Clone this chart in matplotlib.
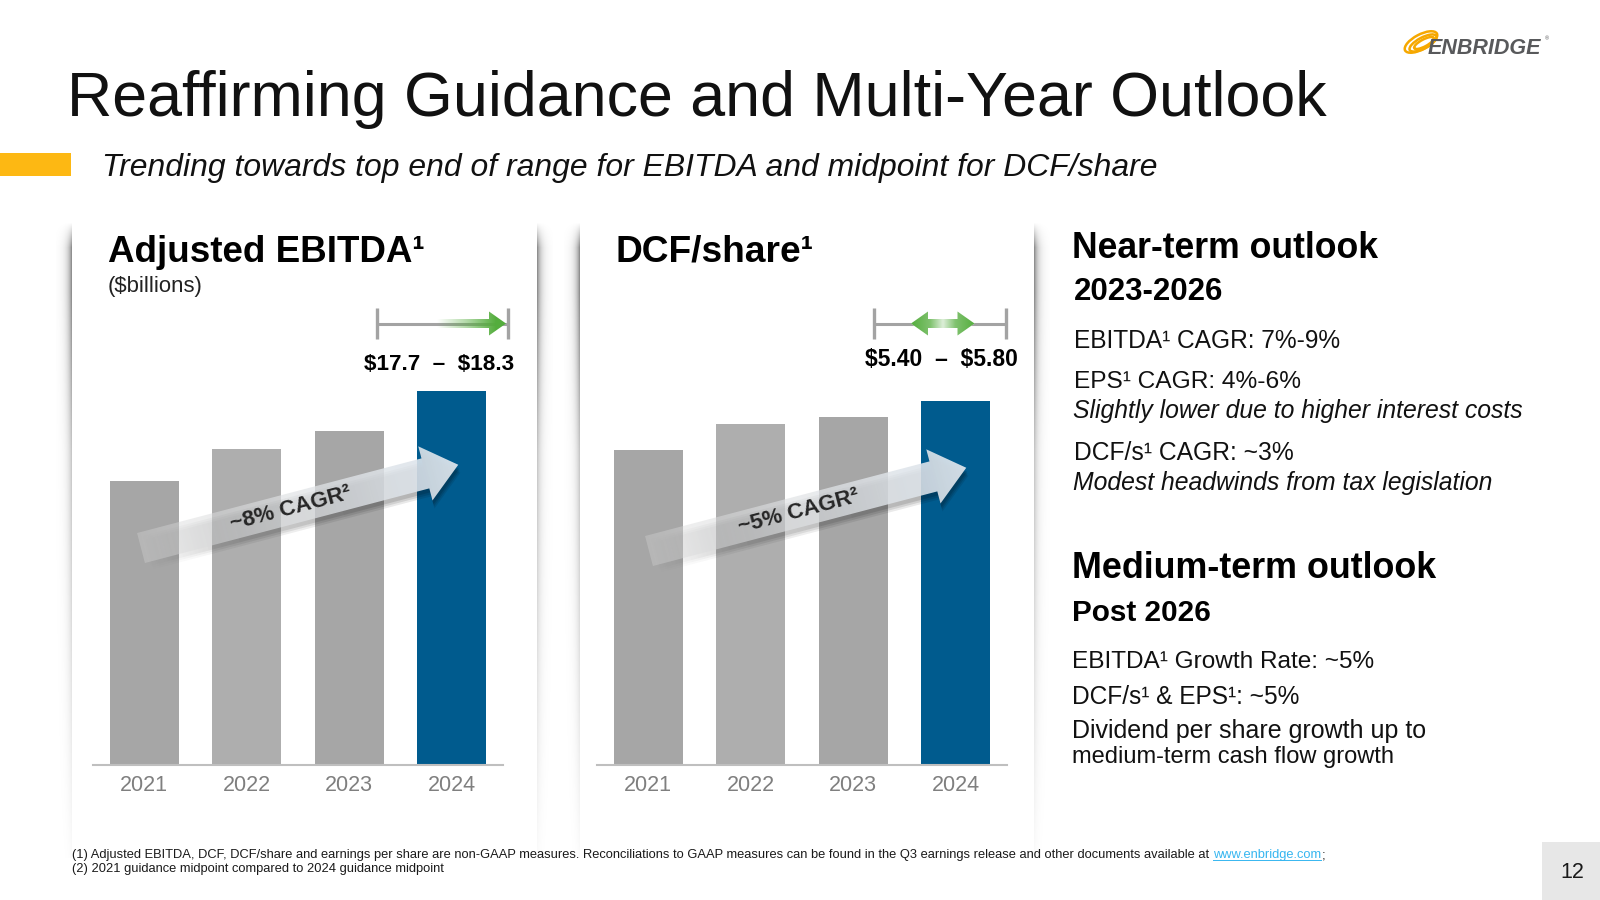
import matplotlib
matplotlib.use('Agg')
import matplotlib.pyplot as plt
import numpy as np
from matplotlib.patches import Polygon, Rectangle, Ellipse
from matplotlib import font_manager

# ---------------- data ----------------
years = ['2021', '2022', '2023', '2024']
ebitda = [13.7, 15.2, 16.1, 18.0]          # $ billions (guidance midpoints)
dcf_share = [4.85, 5.24, 5.35, 5.60]       # $ per share
ebitda_range = ['$17.7', '$18.3']
dcf_range = ['$5.40', '$5.80']
ebitda_cagr = '~8% CAGR²'
dcf_cagr = '~5% CAGR²'
bar_colors = ['#A6A6A6', '#AEAEAE', '#A6A6A6', '#005B8E']

near_term = [('Near-term outlook', 'bold', 'normal'),
             ('2023-2026', 'bold', 'normal'),
             ('EBITDA¹ CAGR: 7%-9%', 'normal', 'normal'),
             ('EPS¹ CAGR: 4%-6%', 'normal', 'normal'),
             ('Slightly lower due to higher interest costs', 'normal', 'italic'),
             ('DCF/s¹ CAGR: ~3%', 'normal', 'normal'),
             ('Modest headwinds from tax legislation', 'normal', 'italic')]
medium_term = [('Medium-term outlook', 'bold', 'normal'),
               ('Post 2026', 'bold', 'normal'),
               ('EBITDA¹ Growth Rate: ~5%', 'normal', 'normal'),
               ('DCF/s¹ & EPS¹: ~5%', 'normal', 'normal'),
               ('Dividend per share growth up to', 'normal', 'normal'),
               ('medium-term cash flow growth', 'normal', 'normal')]

# ---------------- setup ----------------
W, H = 1600, 900
avail = {f.name for f in font_manager.fontManager.ttflist}
SANS = 'Liberation Sans' if 'Liberation Sans' in avail else 'DejaVu Sans'
NARROW = 'Liberation Sans Narrow' if 'Liberation Sans Narrow' in avail else SANS
plt.rcParams['font.family'] = [SANS, 'DejaVu Sans']

fig = plt.figure(figsize=(16, 9), dpi=100)
fig.patch.set_facecolor('white')


def add_axes_px(x0, y0, x1, y1, **kw):
    return fig.add_axes([x0 / W, 1 - y1 / H, (x1 - x0) / W, (y1 - y0) / H], **kw)


bg = add_axes_px(0, 0, W, H, zorder=0)
bg.set_xlim(0, W); bg.set_ylim(H, 0); bg.axis('off')
ov = add_axes_px(0, 0, W, H, zorder=5)
ov.set_xlim(0, W); ov.set_ylim(H, 0); ov.axis('off'); ov.patch.set_alpha(0)
renderer = fig.canvas.get_renderer()


def text_w(s, **kw):
    t = ov.text(0, 0, s, **kw)
    w = t.get_window_extent(renderer).width
    t.remove()
    return w


def fit(x, y, s, width, size0=20, **kw):
    w = text_w(s, fontsize=size0, **kw)
    size = size0 * width / w
    return ov.text(x, y, s, fontsize=size, **kw), size


def grad_patch(ax, verts, p0, p1, stops, zorder=3):
    verts = np.asarray(verts, float)
    xmin, ymin = verts.min(0) - 1
    xmax, ymax = verts.max(0) + 1
    nx = int(xmax - xmin) * 2 + 2
    ny = int(ymax - ymin) * 2 + 2
    X, Y = np.meshgrid(np.linspace(xmin, xmax, nx), np.linspace(ymin, ymax, ny))
    d = np.array(p1, float) - np.array(p0, float)
    t = ((X - p0[0]) * d[0] + (Y - p0[1]) * d[1]) / (d @ d)
    t = np.clip(t, 0, 1)
    ts = [s[0] for s in stops]
    img = np.zeros((ny, nx, 4))
    for c in range(4):
        img[..., c] = np.interp(t, ts, [s[1][c] for s in stops])
    poly = Polygon(verts, closed=True, facecolor='none', edgecolor='none',
                   transform=ax.transData)
    ax.add_patch(poly)
    im = ax.imshow(img, extent=(xmin, xmax, ymax, ymin), origin='upper',
                   aspect='auto', interpolation='bilinear', zorder=zorder)
    im.set_clip_path(poly)
    return im


def edge_shadow(xe, direction, y0=222, y1=858, width=16, amax=0.5):
    ys = np.arange(y0, y1)
    xs = np.arange(width) + 0.5
    hx = np.exp(-xs / 4.0)
    v = np.clip((ys - y0) / 25.0, 0, 1) * np.interp(ys, [y0, y0 + 70, y0 + 230, y1],
                                                    [1, 1, 0.5, 0.04])
    a = amax * v[:, None] * hx[None, :]
    img = np.zeros((len(ys), width, 4))
    if direction < 0:
        img[..., 3] = a[:, ::-1]
        ext = (xe - width, xe, y1, y0)
    else:
        img[..., 3] = a
        ext = (xe, xe + width, y1, y0)
    bg.imshow(img, extent=ext, origin='upper', aspect='auto', interpolation='bilinear')


# panel shadows
edge_shadow(72, -1)
edge_shadow(537, 1)
edge_shadow(580, -1)
edge_shadow(1034, 1)

# ---------------- header ----------------
fit(67, 116, 'Reaffirming Guidance and Multi-Year Outlook', 1260, size0=50,
    color='#111111', va='baseline')
fit(102, 176, 'Trending towards top end of range for EBITDA and midpoint for DCF/share',
    1057, size0=25, style='italic', color='#111111', va='baseline')
ov.add_patch(Rectangle((0, 153), 71, 23, facecolor='#FDB813', edgecolor='none'))

# logo
for (w_, h_, dx_, dy_) in [(36, 15, 0, 0), (30, 11, 2, 1), (22, 7, 3, 1)]:
    ov.add_patch(Ellipse((1421 + dx_, 42 + dy_), w_, h_, angle=-28, fill=False,
                         edgecolor='#F6A800', lw=1.8))
fit(1428, 54, 'ENBRIDGE', 114, size0=14, weight='bold', style='italic',
    color='#58595B', va='baseline')
ov.text(1545, 40, '®', fontsize=4, color='#58595B', va='baseline')

# ---------------- bar charts ----------------
def bar_chart(x0, x1, values, ymax):
    ax = add_axes_px(x0, 300, x1, 765, zorder=2)
    ax.patch.set_alpha(0)
    ax.bar(range(len(values)), values, width=0.675, color=bar_colors, zorder=2)
    ax.set_xlim(-0.5, 3.5)
    ax.set_ylim(0, ymax)
    for s in ['top', 'left', 'right']:
        ax.spines[s].set_visible(False)
    ax.spines['bottom'].set_color('#BFBFBF')
    ax.spines['bottom'].set_linewidth(1.5)
    ax.set_yticks([])
    ax.set_xticks(range(len(years)), years)
    ax.tick_params(axis='x', length=0, pad=7.5, labelsize=15.5, labelcolor='#7F7F7F')
    for lb in ax.get_xticklabels():
        lb.set_family([NARROW, 'DejaVu Sans'])
    return ax


ax1 = bar_chart(93, 503, ebitda, 22.4)
ax2 = bar_chart(597, 1007, dcf_share, 7.15)

# chart titles
fit(108, 262, 'Adjusted EBITDA¹', 317, size0=28, weight='bold', color='#000000', va='baseline')
fit(108, 292, '($billions)', 95, size0=16, color='#222222', va='baseline', parse_math=False)
fit(616, 262, 'DCF/share¹', 198, size0=28, weight='bold', color='#000000', va='baseline')

# range labels
def range_label(cx, cy, rng, width):
    s = f'{rng[0]}  \u2013  {rng[1]}'
    w = text_w(s, fontsize=20, family=[NARROW, 'DejaVu Sans'], weight='bold', parse_math=False)
    ov.text(cx, cy, s, fontsize=20 * width / w, family=[NARROW, 'DejaVu Sans'],
            weight='bold', ha='center', va='center', color='#000000', parse_math=False)


range_label(439, 364, ebitda_range, 150)
range_label(941, 360, dcf_range, 153)

GREEN = (0.33, 0.68, 0.24)


def range_bar(xl, xr, y):
    ov.plot([xl, xr], [y, y], color='#A3A3A3', lw=2.2, solid_capstyle='butt', zorder=2)
    for xx in (xl, xr):
        ov.plot([xx, xx], [y - 15.5, y + 15.5], color='#A3A3A3', lw=2.4,
                solid_capstyle='butt', zorder=4)


# EBITDA range (arrow to the top end)
range_bar(376.5, 508, 323.5)
ys_, yh_, hl_ = 4.5, 12, 17
xa0, xa1 = 437, 506
verts = [(xa0, 323.5 - ys_), (xa1 - hl_, 323.5 - ys_), (xa1 - hl_, 323.5 - yh_), (xa1, 323.5),
         (xa1 - hl_, 323.5 + yh_), (xa1 - hl_, 323.5 + ys_), (xa0, 323.5 + ys_)]
grad_patch(ov, verts, (xa0, 323.5), (xa1 - 10, 323.5),
           [(0, GREEN + (0.0,)), (0.5, GREEN + (0.45,)), (1, GREEN + (1.0,))], zorder=3)

# DCF range (double arrow at midpoint)
range_bar(873.5, 1006, 323.5)
xa0, xa1 = 911, 974.5
cyy = 323.5
verts = [(xa0, cyy), (xa0 + hl_, cyy - yh_), (xa0 + hl_, cyy - ys_), (xa1 - hl_, cyy - ys_),
         (xa1 - hl_, cyy - yh_), (xa1, cyy), (xa1 - hl_, cyy + yh_), (xa1 - hl_, cyy + ys_),
         (xa0 + hl_, cyy + ys_), (xa0 + hl_, cyy + yh_)]
ov.add_patch(Polygon(verts, closed=True, facecolor='white', edgecolor='none', zorder=2.5))
grad_patch(ov, verts, (xa0, cyy), (xa1, cyy),
           [(0, GREEN + (1.0,)), (0.3, GREEN + (0.75,)), (0.5, GREEN + (0.2,)),
            (0.7, GREEN + (0.75,)), (1, GREEN + (1.0,))], zorder=3)


# CAGR arrows
def cagr_arrow(tail, label):
    a = np.deg2rad(14.7)
    u = np.array([np.cos(a), -np.sin(a)])
    n = np.array([np.sin(a), np.cos(a)])
    T = np.array(tail, float)
    L, hl, sw, hw = 328, 34, 15.5, 28

    def arrow_verts(off):
        B = T + (L - hl) * u
        pts = [T - sw * n, B - sw * n, B - hw * n, T + L * u, B + hw * n, B + sw * n, T + sw * n]
        return [tuple(p + off) for p in pts]

    # soft drop shadow
    for k, (ox, oy, al) in enumerate([(2, 8, 0.10), (1.5, 6, 0.12), (1, 4, 0.14)]):
        grad_patch(ov, arrow_verts(np.array([ox, oy])), T, T + L * u,
                   [(0, (0, 0, 0, 0.0)), (0.3, (0, 0, 0, al * 0.6)), (1, (0, 0, 0, al))],
                   zorder=2 + 0.1 * k)
    grad_patch(ov, arrow_verts(np.array([0, 0])), T, T + L * u,
               [(0, (0.84, 0.84, 0.84, 0.35)), (0.5, (0.88, 0.89, 0.90, 0.7)),
                (1, (0.87, 0.90, 0.93, 0.95))], zorder=3)
    c = T + 155 * u
    ov.text(c[0], c[1], label, rotation=14.7, rotation_mode='anchor', ha='center',
            va='center', fontsize=16, weight='bold', color='#262626', zorder=6)


cagr_arrow((141, 548), ebitda_cagr)
cagr_arrow((649, 551), dcf_cagr)

# ---------------- right-hand outlook text ----------------
near_pos = [(1072, 258, 307), (1074, 300, 150), (1074, 348, 267), (1074, 388, 227),
            (1073, 418, 450), (1074, 460, 219), (1073, 490, 419)]
med_pos = [(1072, 578, 365), (1072, 621, 139), (1072, 668, 303), (1072, 704, 228),
           (1072, 738, 353), (1072, 763, 321)]
for (txt, wt, st), (x, y, w) in zip(near_term + medium_term, near_pos + med_pos):
    fit(x, y, txt, w, size0=20, weight=wt, style=st, color='#000000' if wt == 'bold' else '#111111',
        va='baseline')

# ---------------- footnotes ----------------
fn1a = ('(1) Adjusted EBITDA, DCF, DCF/share and earnings per share are non-GAAP measures. '
        'Reconciliations to GAAP measures can be found in the Q3 earnings release and other '
        'documents available at')
link = 'www.enbridge.com'
fkw = dict(family=[NARROW, 'DejaVu Sans'], color='#1A1A1A', va='baseline')
full_w = text_w(fn1a + ' ' + link + ';', fontsize=10, **fkw)
fs = 10 * 1255 / full_w
ov.text(72, 858, fn1a, fontsize=fs, **fkw)
wa = text_w(fn1a, fontsize=fs, **fkw)
sp = text_w('a a', fontsize=fs, **fkw) - text_w('aa', fontsize=fs, **fkw)
lx = 72 + wa + sp
ov.text(lx, 858, link, fontsize=fs, family=[NARROW, 'DejaVu Sans'], color='#36B6F0', va='baseline')
wl = text_w(link, fontsize=fs, **fkw)
ov.plot([lx, lx + wl], [860, 860], color='#36B6F0', lw=0.7)
ov.text(lx + wl + 0.5, 858, ';', fontsize=fs, **fkw)
ov.text(72, 872, '(2) 2021 guidance midpoint compared to 2024 guidance midpoint', fontsize=fs, **fkw)

# page number
ov.add_patch(Rectangle((1542, 842), 58, 58, facecolor='#E7E7E7', edgecolor='none'))
ov.text(1572, 872, '12', fontsize=15.5, ha='center', va='center', color='#1A1A1A')

for a in (bg, ov):
    a.set_xlim(0, W); a.set_ylim(H, 0)

fig.savefig('out.png', dpi=100, facecolor='white')
